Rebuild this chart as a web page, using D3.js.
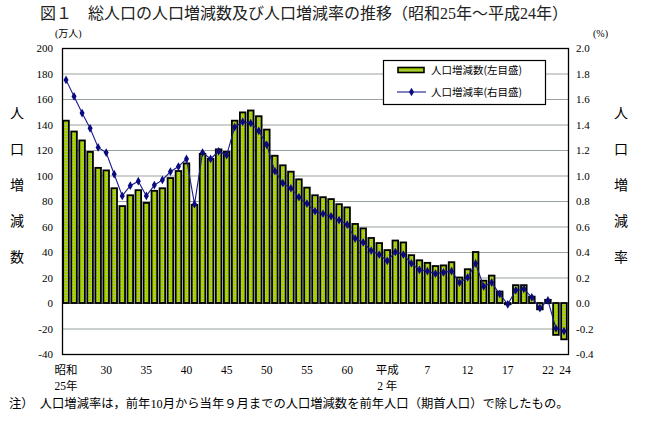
<!DOCTYPE html>
<html><head><meta charset="utf-8">
<script src="https://cdn.jsdelivr.net/npm/d3@7"></script>
<style>
html,body{margin:0;padding:0;background:#fff;}
svg{display:block;}
</style></head>
<body>
<svg id="chart" width="655" height="426"></svg>
<script>
// ---- data ----
const years = d3.range(1950, 2013); // 昭和25年〜平成24年
const changeValues = [143,134.5,127.5,118.5,106,104,90,76,84.5,88.5,
  78.5,88,90,98,103.5,109.5,77,117,113,120.5,
  118.5,143,149.5,151,146.5,136,115.5,108,103,97,
  90.5,84.5,83,81.5,77.5,75,62,58.5,51,47,
  41.5,49,47.5,37.5,33.5,31.5,29,29.5,32,20,
  26.5,40,17.5,21.5,9,-1,14,14,5,-5,
  2.5,-25,-28.5];
const rateValues = [1.75,1.62,1.49,1.37,1.22,1.18,1.01,0.84,0.92,0.955,
  0.84,0.925,0.965,1.03,1.07,1.13,0.775,1.18,1.13,1.19,
  1.16,1.38,1.42,1.41,1.35,1.24,1.035,0.94,0.90,0.83,
  0.78,0.72,0.70,0.68,0.65,0.615,0.505,0.475,0.41,0.38,
  0.33,0.40,0.38,0.31,0.26,0.25,0.23,0.24,0.25,0.16,
  0.20,0.31,0.13,0.16,0.07,-0.01,0.10,0.11,0.045,-0.04,
  0.02,-0.20,-0.22];
const tickYears = [1950,1955,1960,1965,1970,1975,1980,1985,1990,1995,2000,2005,2010,2012];
const tickLine1 = ["昭和","30","35","40","45","50","55","60","平成","7","12","17","22","24"];
const tickLine2 = ["25年","","","","","","","","2 年","","","","",""];
const leftTicks = [200,180,160,140,120,100,80,60,40,20,0,-20,-40];
const rightTicks = [2.0,1.8,1.6,1.4,1.2,1.0,0.8,0.6,0.4,0.2,0.0,-0.2,-0.4];
const titleText = "図１　総人口の人口増減数及び人口増減率の推移（昭和25年～平成24年）";
const leftTitle = ["人","口","増","減","数"];
const rightTitle = ["人","口","増","減","率"];
const legendLabels = ["人口増減数(左目盛)","人口増減率(右目盛)"];
const noteText = "注）　人口増減率は，前年10月から当年９月までの人口増減数を前年人口（期首人口）で除したもの。";

// ---- layout ----
const L = 62, R = 568, T = 48, B = 354;
const serif = "'Liberation Serif','Noto Sans CJK JP',serif";
const jp = "'Noto Sans CJK JP',sans-serif";

const svg = d3.select("#chart");
const defs = svg.append("defs");
const pat = defs.append("pattern").attr("id","dots").attr("patternUnits","userSpaceOnUse")
  .attr("width",3).attr("height",3);
pat.append("rect").attr("width",3).attr("height",3).attr("fill","#a2d000");
pat.append("rect").attr("x",1).attr("y",1).attr("width",1).attr("height",1).attr("fill","#c9b9c9");

const x = d3.scaleBand().domain(years).range([L,R]).paddingInner(0.3).paddingOuter(0.15);
const y = d3.scaleLinear().domain([-40,200]).range([B,T]);
const y2 = d3.scaleLinear().domain([-0.4,2.0]).range([B,T]);

// gridlines
svg.append("g").selectAll("line").data(leftTicks.filter(d=>d!==200 && d!==-40)).join("line")
  .attr("x1",L).attr("x2",R).attr("y1",d=>y(d)+0.5).attr("y2",d=>y(d)+0.5)
  .attr("stroke","#9aa39a").attr("stroke-width",1);

// bars
svg.append("g").selectAll("rect").data(changeValues).join("rect")
  .attr("x",(d,i)=>x(years[i]))
  .attr("width",x.bandwidth())
  .attr("y",d=>Math.min(y(d),y(0)))
  .attr("height",d=>Math.abs(y(d)-y(0)))
  .attr("fill","url(#dots)").attr("stroke","#000").attr("stroke-width",1.8);

// line
const cx = i => x(years[i]) + x.bandwidth()/2;
svg.append("path").datum(rateValues)
  .attr("d",d3.line().x((d,i)=>cx(i)).y(d=>y2(d)))
  .attr("fill","none").attr("stroke","#1a1a8c").attr("stroke-width",1.1);
const diamond = d3.symbol().type(d3.symbolDiamond).size(22);
svg.append("g").selectAll("path").data(rateValues).join("path")
  .attr("transform",(d,i)=>`translate(${cx(i)},${y2(d)})`)
  .attr("d",diamond).attr("fill","#0a0a80");

// frame
svg.append("rect").attr("x",L+0.5).attr("y",T+0.5).attr("width",R-L).attr("height",B-T)
  .attr("fill","none").attr("stroke","#000").attr("stroke-width",1.3);

// left axis labels
svg.append("g").selectAll("text").data(leftTicks).join("text")
  .attr("x",53).attr("y",d=>y(d)+4).attr("text-anchor","end")
  .attr("font-family",serif).attr("font-size",11).text(d=>d);
// right axis labels
svg.append("g").selectAll("text").data(rightTicks).join("text")
  .attr("x",576).attr("y",d=>y2(d)+4).attr("text-anchor","start")
  .attr("font-family",serif).attr("font-size",11).text(d=>d.toFixed(1));

// x labels
const tickIdx = tickYears.map(v=>years.indexOf(v));
svg.append("g").selectAll("text").data(tickIdx).join("text")
  .attr("x",(d,k)=>cx(d)+(k===tickIdx.length-1?1:0)).attr("y",374).attr("text-anchor","middle")
  .attr("font-family",serif).attr("font-size",11.5).text((d,k)=>tickLine1[k]);
svg.append("g").selectAll("text").data(tickIdx).join("text")
  .attr("x",d=>cx(d)).attr("y",390).attr("text-anchor","middle")
  .attr("font-family",serif).attr("font-size",11.5).text((d,k)=>tickLine2[k]);

// title
svg.append("text").attr("x",40).attr("y",19).attr("font-family",serif).attr("font-size",16)
  .attr("fill","#222").text(titleText);
svg.append("text").attr("x",55).attr("y",37).attr("font-family",serif).attr("font-size",10).text("(万人)");
svg.append("text").attr("x",593).attr("y",37).attr("font-family",serif).attr("font-size",10).text("(%)");

// axis titles
svg.append("g").selectAll("text").data(leftTitle).join("text")
  .attr("x",17).attr("y",(d,i)=>118+i*36).attr("text-anchor","middle")
  .attr("font-family",serif).attr("font-size",14).text(d=>d);
svg.append("g").selectAll("text").data(rightTitle).join("text")
  .attr("x",621).attr("y",(d,i)=>118+i*36).attr("text-anchor","middle")
  .attr("font-family",serif).attr("font-size",14).text(d=>d);

// legend
const lg = svg.append("g");
lg.append("rect").attr("x",383.5).attr("y",60.5).attr("width",162).attr("height",44)
  .attr("fill","#fff").attr("stroke","#000").attr("stroke-width",1.2);
lg.append("rect").attr("x",398).attr("y",67.5).attr("width",26).attr("height",5)
  .attr("fill","url(#dots)").attr("stroke","#000").attr("stroke-width",1.6);
lg.append("line").attr("x1",397).attr("x2",426).attr("y1",92).attr("y2",92)
  .attr("stroke","#1a1a8c").attr("stroke-width",1.1);
lg.append("path").attr("transform","translate(411.5,92)").attr("d",diamond).attr("fill","#0a0a80");
lg.selectAll("text.l").data(legendLabels).join("text").attr("class","l")
  .attr("x",431).attr("y",(d,i)=>74+i*22).attr("font-family",jp).attr("font-size",10.5)
  .text(d=>d);

// note
svg.append("text").attr("x",9).attr("y",408).attr("font-family",serif).attr("font-size",12.3)
  .text(noteText);
</script>
</body></html>
